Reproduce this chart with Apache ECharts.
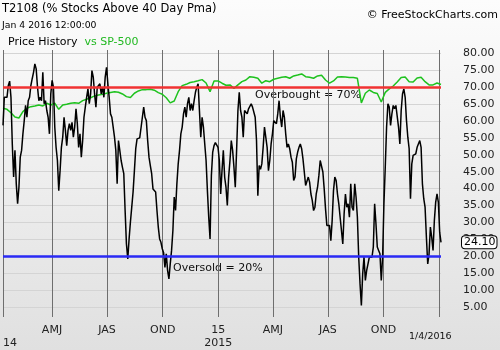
<!DOCTYPE html>
<html><head><meta charset="utf-8">
<script src="https://cdn.jsdelivr.net/npm/echarts@6/dist/echarts.min.js"></script>
<style>html,body{margin:0;padding:0;background:#fff}#c{width:500px;height:350px;}</style>
</head><body><div id="c"></div>
<script>
const startDate = '2014-01-10';
const endDate = '2016-01-04';
const t2108 = [
58.7,67.0,66.5,67.0,70.5,71.8,67.0,53.2,43.4,51.3,
41.4,35.5,40.4,49.3,51.3,56.2,60.1,64.6,61.1,66.0,
67.0,70.5,72.5,74.4,76.9,75.4,70.0,66.0,67.0,66.0,
74.4,65.1,66.0,63.1,61.1,56.2,68.0,72.0,70.0,58.2,
52.2,48.3,39.4,45.3,52.2,55.2,61.1,57.2,52.7,57.2,
59.2,57.2,59.6,55.2,58.2,63.6,59.2,52.2,56.2,49.3,
54.2,61.1,64.1,67.0,69.5,65.1,68.0,74.9,73.0,68.0,
64.1,70.0,70.5,71.0,68.0,70.0,67.0,73.0,75.9,71.0,
67.0,62.1,61.1,
58.2,55.2,51.3,41.4,54.2,51.3,48.3,46.3,44.4,33.5,
23.6,19.2,25.1,30.1,34.5,39.0,45.3,51.8,54.7,54.2,
55.0,58.0,61.1,64.1,61.1,60.1,54.2,49.3,46.8,44.4,
39.9,39.4,39.0,33.5,28.6,25.1,24.1,22.2,21.0,16.7,
20.7,15.8,13.3,17.7,21.7,27.6,37.5,33.5,41.4,47.3,
51.3,56.2,58.2,62.1,64.1,61.1,65.1,67.0,63.1,65.1,
63.1,66.0,68.5,70.0,71.0,63.1,55.2,61.1,58.2,53.2,
48.3,39.4,31.5,25.1,43.9,50.8,52.7,53.6,53.2,52.2,
48.3,38.4,
45.3,51.3,43.4,40.4,35.0,43.4,48.3,54.2,51.3,46.3,
40.4,51.3,63.1,68.5,63.1,61.1,55.2,63.1,62.6,62.1,
63.6,64.1,65.1,64.1,63.6,61.1,54.2,37.9,46.8,45.7,
47.3,52.2,58.2,58.2,52.2,45.3,48.3,53.2,56.2,60.1,
59.6,59.2,62.1,66.0,61.1,58.2,63.1,61.1,56.2,52.2,
53.2,51.8,49.3,47.8,42.4,43.4,48.8,50.8,52.2,53.2,
51.8,48.8,44.9,40.9,40.4,43.4,41.9,38.4,36.5,33.5,
34.5,38.4,40.4,43.9,48.3,48.8,44.9,39.9,34.0,29.1,
29.6,29.1,24.6,
30.6,39.4,43.4,42.4,38.4,35.5,31.5,27.6,23.6,32.5,
38.4,34.5,35.5,31.5,41.4,34.5,33.5,41.4,37.5,31.5,
19.7,11.8,5.4,14.8,19.7,12.8,15.8,17.7,19.7,19.2,
19.7,22.7,35.5,29.6,22.7,21.7,20.7,12.8,19.7,35.5,
46.3,58.2,65.1,64.1,58.7,62.1,64.6,63.6,64.6,65.1,
58.2,53.2,63.1,68.0,69.5,67.0,60.1,55.2,51.8,37.0,
47.3,49.8,49.8,50.3,52.2,52.7,54.2,52.2,41.4,37.0,
34.5,25.6,17.7,20.7,28.6,25.6,21.7,30.6,36.0,38.4,
36.0,27.1,24.1
];
const sp500 = [
1838,1829,1801,1766,1757,1810,1838,1851,1857,1865,1857,1879,1865,1879,1829,1865,1871,1879,1884,1879,
1901,1912,1925,1940,1948,1954,1962,1969,1975,
1970,1956,1934,1927,1962,1981,1992,1992,1995,1987,1967,1954,1925,1882,1898,1975,2025,2036,2051,2058,
2066,2075,2047,1975,2064,2064,
2045,2028,2031,2002,2031,2058,2072,2099,2094,2086,2045,2066,2058,2078,2086,2094,2099,2086,2105,2113,
2122,2099,2094,2086,2105,2111,2072,2045,
2064,2097,2099,2097,2093,2093,2086,1882,1962,1989,1969,1960,1890,1969,1998,2022,2055,2093,2097,2058,
2055,2089,2094,2058,2031,2031,2047,2035
];
const quarterStarts = ['2014-04-01','2014-07-01','2014-10-01','2015-01-01','2015-04-01','2015-07-01','2015-10-01','2016-01-01'];
const quarterLabels = ['AMJ','JAS','OND','15\n2015','AMJ','JAS','OND',''];
const firstYearLabel = '\n14';
const yTicks = [5,10,15,20,25,30,35,40,45,50,55,60,65,70,75,80];
const overbought = 70;
const oversold = 20;

const FONT = 'DejaVu Sans';
const t0 = Date.parse(startDate), t1 = Date.parse(endDate);
const spread = (arr) => arr.map((v, i) => [t0 + (t1 - t0) * i / (arr.length - 1), v]);
const qTs = quarterStarts.map(d => Date.parse(d));

const chart = echarts.init(document.getElementById('c'), null, {renderer: 'canvas'});
chart.setOption({
  animation: false,
  backgroundColor: new echarts.graphic.LinearGradient(0, 0, 0, 1, [
    {offset: 0, color: '#fcfcfc'}, {offset: 1, color: '#e0e0e0'}]),
  textStyle: {fontFamily: FONT},
  grid: {left: 0, right: 59, top: 50, bottom: 33},
  xAxis: {
    type: 'value', min: t0, max: t1, scale: true,
    axisLine: {show: false},
    axisTick: {show: false, customValues: [t0].concat(qTs)},
    splitLine: {show: true, lineStyle: {color: '#6e6e6e', width: 1}},
    axisLabel: {
      customValues: [t0].concat(qTs.slice(0, 7)),
      alignMinLabel: 'left',
      formatter: (v) => {
        if (v === t0) return firstYearLabel;
        const i = qTs.indexOf(v);
        return i >= 0 ? quarterLabels[i] : '';
      },
      fontSize: 11, color: '#222', lineHeight: 13, margin: 7, fontFamily: FONT
    }
  },
  yAxis: [{
    type: 'value', position: 'right', min: 2, max: 81,
    axisLine: {show: false},
    axisTick: {show: false, customValues: yTicks},
    splitLine: {show: true, lineStyle: {color: '#d4d4d4', width: 1}},
    axisLabel: {customValues: yTicks, formatter: v => v.toFixed(2), margin: 22,
      fontSize: 11, color: '#222', fontFamily: FONT}
  }, {
    type: 'value', show: false, min: 110, max: 2320, splitLine: {show: false}
  }],
  series: [{
    type: 'line', name: 'SP-500', yAxisIndex: 1, data: spread(sp500),
    showSymbol: false, lineStyle: {color: '#1ec21e', width: 1.5}, z: 2
  }, {
    type: 'line', name: 'T2108', data: spread(t2108), showSymbol: false,
    lineStyle: {color: '#000', width: 1.5}, z: 3,
    endLabel: {show: true, formatter: p => p.value[1].toFixed(2), distance: 21,
      color: '#000', fontSize: 11, fontFamily: FONT, backgroundColor: '#fdfdfd',
      borderColor: '#000', borderWidth: 1, borderRadius: 3, padding: [1, 1, 0, 2]},
    markLine: {silent: true, symbol: 'none', label: {show: false},
      data: [
        {yAxis: overbought, lineStyle: {color: '#f03232', width: 2.5, type: 'solid'}},
        {yAxis: oversold, lineStyle: {color: '#2a2af5', width: 2.5, type: 'solid'}}
      ]}
  }],
  graphic: [
    {type: 'text', left: 2, top: 3, style: {text: 'T2108 (% Stocks Above 40 Day Pma)', font: '11.5px "DejaVu Sans"', fill: '#000'}},
    {type: 'text', left: 2, top: 21, style: {text: 'Jan 4 2016 12:00:00', font: '9.3px "DejaVu Sans"', fill: '#000'}},
    {type: 'text', left: 8, top: 37, style: {text: 'Price History', font: '11px "DejaVu Sans"', fill: '#000'}},
    {type: 'text', left: 81, top: 37, style: {text: ' vs SP-500', font: '11px "DejaVu Sans"', fill: '#22b922'}},
    {type: 'text', right: 2, top: 10, style: {text: '\u00a9 FreeStockCharts.com', font: '11px "DejaVu Sans"', fill: '#000'}},
    {type: 'text', left: 255, top: 90, style: {text: 'Overbought = 70%', font: '11px "DejaVu Sans"', fill: '#111'}},
    {type: 'text', left: 173, top: 263, style: {text: 'Oversold = 20%', font: '11px "DejaVu Sans"', fill: '#111'}},
    {type: 'text', left: 409, top: 332, style: {text: '1/4/2016', font: '9.5px "DejaVu Sans"', fill: '#111'}}
  ]
});
</script></body></html>
